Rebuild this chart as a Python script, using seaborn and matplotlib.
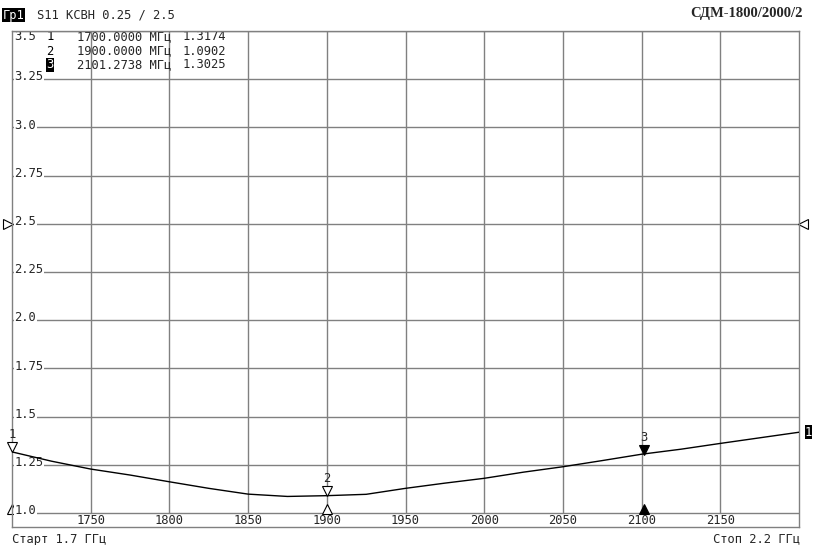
import matplotlib
matplotlib.use("Agg")
import matplotlib.pyplot as plt
import matplotlib.transforms as mtransforms
import seaborn as sns
import pandas as pd

# trace S11 SWR
freq_mhz = [1700, 1725, 1750, 1775, 1800, 1825, 1850, 1875, 1900, 1925,
            1950, 1975, 2000, 2025, 2050, 2075, 2100, 2125, 2150, 2175, 2200]
swr = [1.317, 1.269, 1.228, 1.197, 1.162, 1.128, 1.098, 1.086, 1.090, 1.097,
       1.128, 1.155, 1.180, 1.212, 1.240, 1.272, 1.305, 1.331, 1.361, 1.390, 1.419]

marker_ids = ["1", "2", "3"]
marker_freq = [1700.0, 1900.0, 2101.2738]
marker_swr = [1.3174, 1.0902, 1.3025]
active_marker = "3"

x_ticks = list(range(1700, 2201, 50))
x_labels = ["", "1750", "1800", "1850", "1900", "1950", "2000", "2050", "2100", "2150", ""]
y_ticks = [1.0, 1.25, 1.5, 1.75, 2.0, 2.25, 2.5, 2.75, 3.0, 3.25, 3.5]
y_labels = ["1.0", "1.25", "1.5", "1.75", "2.0", "2.25", "2.5", "2.75", "3.0", "3.25", "3.5"]
ref_level = 2.5

title = "СДМ-1800/2000/2"
header = "S11 КСВН 0.25 / 2.5"
start_txt = "Старт 1.7 ГГц"
stop_txt = "Стоп 2.2 ГГц"

sns.set_style("white")
plt.rcParams['font.family'] = ['DejaVu Sans Mono', 'DejaVu Sans']
grid_c = "#808080"
fs = 8.7

df = pd.DataFrame({"freq": freq_mhz, "swr": swr})

fig = plt.figure(figsize=(8.18, 5.45), dpi=100)
ax = fig.add_axes([12 / 818, 1 - 527 / 545, 787 / 818, 496 / 545])
ax.set_xlim(1700, 2200)
ax.set_ylim(0.9275, 3.5)

# grid
ax.hlines(y_ticks, 1700, 2200, color=grid_c, lw=1, zorder=1)
ax.vlines(x_ticks[1:-1], 1.0, 3.5, color=grid_c, lw=1, zorder=1)
for s in ax.spines.values():
    s.set_color(grid_c)
    s.set_linewidth(1)
    s.set_zorder(5)
ax.set_xticks([])
ax.set_yticks([])

sns.lineplot(data=df, x="freq", y="swr", ax=ax, color="black", lw=1, zorder=6)
ax.set_xlabel("")
ax.set_ylabel("")

# y labels inside the plot
ylab_tr = mtransforms.blended_transform_factory(ax.transAxes, ax.transData)
for v, lab in zip(y_ticks, y_labels):
    if v == 3.5:
        ax.text(0.003, v - 0.03, lab, transform=ylab_tr, fontsize=fs, va="center", ha="left",
                zorder=4)
    else:
        ax.text(0.003, v + 0.012, lab, transform=ylab_tr, fontsize=fs, va="center", ha="left",
                zorder=4, bbox=dict(facecolor="white", edgecolor="none", pad=0.6))

# x labels in the band under 1.0
for v, lab in zip(x_ticks, x_labels):
    if lab:
        ax.text(v, 0.962, lab, fontsize=fs, ha="center", va="center", zorder=4)

# marker table
tbl_y = [3.469, 3.396, 3.324]
for i, (mid, f, s) in enumerate(zip(marker_ids, marker_freq, marker_swr)):
    box = dict(facecolor="black", edgecolor="none", pad=0.2) if mid == active_marker else None
    ax.text(1724, tbl_y[i], mid, fontsize=fs, ha="center", va="center",
            color="white" if box else "black", bbox=box, zorder=4)
    ax.text(1741, tbl_y[i], f"{f:9.4f} МГц", fontsize=fs, ha="left", va="center", zorder=4)
    ax.text(1808.5, tbl_y[i], f"{s:.4f}", fontsize=fs, ha="left", va="center", zorder=4)

# markers on the trace
tri_up = mtransforms.offset_copy(ax.transData, fig=fig, y=3.6, units="points")
lab_up = mtransforms.offset_copy(ax.transData, fig=fig, y=12.5, units="points")
base_up = mtransforms.offset_copy(ax.transData, fig=fig, y=3.0, units="points")
for mid, f, s in zip(marker_ids, marker_freq, marker_swr):
    filled = mid == active_marker
    ax.plot([f], [s], marker="v", ms=7, mec="black", mew=0.8,
            mfc="black" if filled else "white", transform=tri_up, clip_on=False, zorder=7)
    ax.text(f, s, mid, transform=lab_up, fontsize=fs, ha="center", va="center", zorder=7)
    ax.plot([f], [1.0], marker="^", ms=7.5, mec="black", mew=0.8,
            mfc="black" if filled else "white", transform=base_up, clip_on=False, zorder=3)

# reference level triangles
left_ref = mtransforms.offset_copy(ylab_tr, fig=fig, x=-2.9, units="points")
right_ref = mtransforms.offset_copy(ylab_tr, fig=fig, x=2.9, units="points")
ax.plot([0], [ref_level], marker=">", ms=7, mfc="white", mec="black", mew=0.8,
        transform=left_ref, clip_on=False, zorder=5)
ax.plot([1], [ref_level], marker="<", ms=7, mfc="white", mec="black", mew=0.8,
        transform=right_ref, clip_on=False, zorder=5)

# trace number at right end
ax.text(1.012, swr[-1], "1", transform=ylab_tr, fontsize=fs, color="white", ha="center",
        va="center", bbox=dict(facecolor="black", edgecolor="none", pad=0.2))

# header and footer
fig.text(3 / 818, 1 - 15 / 545, "Гр1", fontsize=fs, color="white", ha="left", va="center",
         bbox=dict(facecolor="black", edgecolor="none", pad=0.5))
fig.text(37 / 818, 1 - 15 / 545, header, fontsize=fs, ha="left", va="center")
fig.text(803 / 818, 1 - 14 / 545, title, fontsize=10.5, fontweight="bold",
         family="Liberation Serif", ha="right", va="center")
fig.text(12 / 818, 1 - 539 / 545, start_txt, fontsize=fs, ha="left", va="center")
fig.text(800 / 818, 1 - 539 / 545, stop_txt, fontsize=fs, ha="right", va="center")

fig.savefig("out.png", dpi=100)
